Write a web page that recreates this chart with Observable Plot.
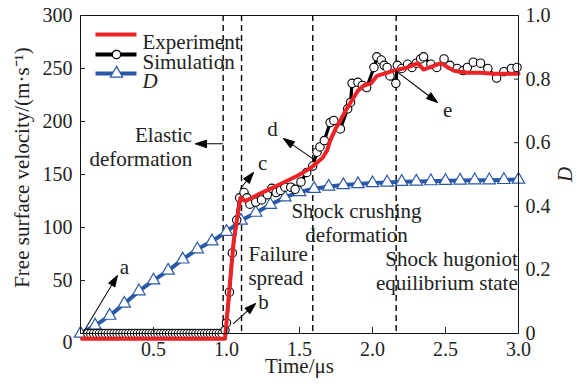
<!DOCTYPE html>
<html>
<head>
<meta charset="utf-8">
<script src="https://cdn.jsdelivr.net/npm/d3@7"></script>
<script src="https://cdn.jsdelivr.net/npm/@observablehq/plot@0.6"></script>
<style>
  html, body { margin: 0; padding: 0; background: #fff; }
  #chart svg { display: block; }
</style>
</head>
<body>
<div id="chart"></div>
<script>
// Experiment: measured free surface velocity (m/s) against time (µs)
const expTime = [0.01, 0.99, 1.05, 1.095, 1.13, 1.23, 1.37, 1.49, 1.575, 1.61, 1.66, 1.69, 1.71, 1.75, 1.78, 1.815, 1.85, 1.90, 1.94, 1.99, 2.03, 2.075, 2.145, 2.24, 2.31, 2.35, 2.47, 2.555, 2.65, 2.74, 2.83, 2.97, 3.0];
const expVelocity = [-5, -5, 88, 128, 125, 132, 141, 149, 156, 160, 166, 173, 182, 194, 201, 210, 218, 229, 234, 236, 243, 245, 248, 251, 255, 249, 255, 248, 246, 246, 245, 245, 245];

// Simulation: computed free surface velocity (m/s)
const simTime = [
  0.05, 0.07, 0.09, 0.11, 0.13, 0.15, 0.17, 0.19, 0.21, 0.23, 0.25, 0.27, 0.29, 0.31, 0.33, 0.35,
  0.37, 0.39, 0.41, 0.43, 0.45, 0.47, 0.49, 0.51, 0.53, 0.55, 0.57, 0.59, 0.61, 0.63, 0.65, 0.67,
  0.69, 0.71, 0.73, 0.75, 0.77, 0.79, 0.81, 0.83, 0.85, 0.87, 0.89, 0.91, 0.93, 0.95, 0.97,
  0.99, 1.00, 1.02, 1.04, 1.07, 1.09, 1.12, 1.14, 1.16, 1.20, 1.24, 1.28, 1.31, 1.34, 1.37, 1.40,
  1.44, 1.47, 1.51, 1.55, 1.59, 1.62, 1.64, 1.67, 1.71, 1.735, 1.78, 1.83, 1.85, 1.86, 1.90, 1.93,
  1.96, 2.01, 2.03, 2.06, 2.08, 2.10, 2.12, 2.16, 2.17, 2.20, 2.24, 2.27, 2.30, 2.33, 2.35, 2.40,
  2.44, 2.49, 2.53, 2.58, 2.62, 2.65, 2.69, 2.74, 2.79, 2.85, 2.90, 2.95, 2.99
];
const simVelocity = [
  0, 0, 0, 0, 0, 0, 0, 0, 0, 0, 0, 0, 0, 0, 0, 0,
  0, 0, 0, 0, 0, 0, 0, 0, 0, 0, 0, 0, 0, 0, 0, 0,
  0, 0, 0, 0, 0, 0, 0, 0, 0, 0, 0, 0, 0, 0, 0,
  3, 10, 39, 76, 107, 128, 133, 128, 122, 124, 126, 131, 137, 133, 135, 138,
  138, 136, 143, 152, 158, 171, 176, 182, 199, 201, 193, 212, 218, 236, 237, 234,
  232, 251, 261, 258, 253, 251, 243, 236, 253, 250, 254, 251, 255, 259, 261, 254,
  251, 259, 253, 250, 248, 251, 256, 255, 250, 241, 247, 250, 251
];

// Damage variable D (right axis, 0–1)
const dTime = [0, 0.1, 0.2, 0.3, 0.4, 0.5, 0.6, 0.7, 0.8, 0.9, 1.0, 1.1, 1.2, 1.3, 1.4, 1.5, 1.6, 1.7, 1.8, 1.9, 2.0, 2.1, 2.2, 2.3, 2.4, 2.5, 2.6, 2.7, 2.8, 2.9, 3.0];
const dValue = [0, 0.025, 0.056, 0.094, 0.133, 0.167, 0.198, 0.233, 0.265, 0.290, 0.320, 0.355, 0.380, 0.405, 0.428, 0.445, 0.455, 0.462, 0.467, 0.470, 0.473, 0.475, 0.477, 0.478, 0.479, 0.480, 0.481, 0.482, 0.482, 0.483, 0.484];

// Stage boundaries (µs)
const stageTimes = [0.977, 1.103, 1.591, 2.162];

// Axis ticks
const xTicks = [0.5, 1.0, 1.5, 2.0, 2.5, 3.0];
const velocityTicks = [0, 50, 100, 150, 200, 250, 300];
const dTicks = [0, 0.2, 0.4, 0.6, 0.8, 1.0];

// Stage descriptions and point labels, in data units (time, velocity)
const notes = [
  {text: "Elastic\ndeformation", t: 0.765, v: 177, anchor: "end"},
  {text: "Failure\nspread", t: 1.15, v: 64, anchor: "start"},
  {text: "Shock crushing\ndeformation", t: 1.89, v: 105, anchor: "middle"},
  {text: "Shock hugoniot\nequilibrium state", t: 2.995, v: 60, anchor: "end"},
  {text: "a", t: 0.30, v: 63, anchor: "middle"},
  {text: "b", t: 1.253, v: 30, anchor: "middle"},
  {text: "c", t: 1.247, v: 162, anchor: "middle"},
  {text: "d", t: 1.315, v: 194, anchor: "middle"},
  {text: "e", t: 2.514, v: 212, anchor: "middle"}
];
const pointers = [
  {t1: 0.014, v1: 0, t2: 0.253, v2: 54.7},
  {t1: 1.048, v1: 9.4, t2: 1.2, v2: 28.3},
  {t1: 1.096, v1: 136.8, t2: 1.185, v2: 151.9},
  {t1: 1.59, v1: 165, t2: 1.39, v2: 184},
  {t1: 2.158, v1: 248, t2: 2.445, v2: 218},
  {t1: 0.973, v1: 179, t2: 0.788, v2: 179}
];

// ---- layout ----
const W = 576, H = 385;
const M = {top: 15, right: 58, bottom: 52, left: 80};
const X_DOMAIN = [0, 3], Y_DOMAIN = [0, 300];
const D_MAX = 1; // right axis spans 0..1 over the same height
const kx = (W - M.left - M.right) / (X_DOMAIN[1] - X_DOMAIN[0]);
const ky = (H - M.top - M.bottom) / (Y_DOMAIN[1] - Y_DOMAIN[0]);
const toVelocity = (d) => d / D_MAX * Y_DOMAIN[1];

const FONT = "'Liberation Serif', 'Times New Roman', serif";
const FS = 21;      // titles, notes, legend
const FS_TICK = 20; // tick labels
const RED = "#ec2227", BLACK = "#000", BLUE = "#2a58a8";
const TXT = {fontSize: FS, fontFamily: FONT, fill: "#222"};
const TICK = {fontSize: FS_TICK, fontFamily: FONT, fill: "#222"};

const experiment = expTime.map((t, i) => ({t, v: expVelocity[i]}));
const simulation = simTime.map((t, i) => ({t, v: simVelocity[i]}));
const damage = dTime.map((t, i) => ({t, d: dValue[i]}));

// straight segment (used for legend swatches)
const segment = {draw(c, l) { c.moveTo(0, 0); c.lineTo(0, -l); }};
// line with a filled arrowhead at the far end
const headed = {
  draw(c, l) {
    const h = 11, w = 3.6;
    c.moveTo(0, 0); c.lineTo(0, -l + h);
    c.moveTo(0, -l); c.lineTo(w, -l + h); c.lineTo(-w, -l + h); c.closePath();
  }
};
const pointerMarks = pointers.map((p) => {
  const dx = (p.t2 - p.t1) * kx, dy = -(p.v2 - p.v1) * ky;
  return Plot.vector([p], {
    x: "t2", y: "v2", anchor: "end", shape: headed,
    length: Math.hypot(dx, dy), rotate: Math.atan2(dx, -dy) * 180 / Math.PI,
    stroke: BLACK, fill: BLACK, strokeWidth: 1
  });
});
const noteMarks = ["start", "middle", "end"].map((anchor) =>
  Plot.text(notes.filter((n) => n.anchor === anchor), {x: "t", y: "v", text: "text", textAnchor: anchor, lineHeight: 1.15, ...TXT})
);

const legendRows = [
  {label: "Experiment", color: RED, dy: 19, marker: null, italic: false},
  {label: "Simulation", color: BLACK, dy: 39, marker: "circle", italic: false},
  {label: "D", color: BLUE, dy: 58, marker: "triangle", italic: true}
];
const legendMarks = legendRows.flatMap((row) => {
  const marks = [
    Plot.vector([row], {frameAnchor: "top-left", dx: 15, dy: row.dy, length: 41, rotate: 90, anchor: "start",
      shape: segment, stroke: row.color, strokeWidth: 4, strokeLinecap: "butt"}),
    Plot.text([row], {frameAnchor: "top-left", dx: 62, dy: row.dy, text: "label", textAnchor: "start",
      ...TXT, fontStyle: row.italic ? "italic" : "normal"})
  ];
  if (row.marker) marks.splice(1, 0, Plot.dot([row], {frameAnchor: "top-left", dx: 36, dy: row.dy,
    symbol: row.marker, r: row.marker === "circle" ? 4.2 : 4.6, fill: "white", stroke: row.color, strokeWidth: 1.2}));
  return marks;
});

const chart = Plot.plot({
  width: W, height: H,
  marginTop: M.top, marginRight: M.right, marginBottom: M.bottom, marginLeft: M.left,
  style: {fontFamily: FONT, fontSize: FS + "px", background: "white", color: "#222"},
  x: {domain: X_DOMAIN},
  y: {domain: Y_DOMAIN},
  marks: [
    Plot.ruleX(stageTimes, {stroke: BLACK, strokeWidth: 1.4, strokeDasharray: "6,4"}),
    // damage on the right-hand scale
    Plot.line(damage, {x: "t", y: (d) => toVelocity(d.d), stroke: BLUE, strokeWidth: 4}),
    Plot.dot(damage, {x: "t", y: (d) => toVelocity(d.d), symbol: "triangle", r: 4.6, fill: "white", stroke: BLUE, strokeWidth: 1.2}),
    // simulation
    Plot.line(simulation, {x: "t", y: "v", stroke: BLACK, strokeWidth: 3.2}),
    Plot.dot(simulation, {x: "t", y: "v", r: 4.2, fill: "white", stroke: BLACK, strokeWidth: 1.1}),
    // experiment
    Plot.line(experiment, {x: "t", y: "v", stroke: RED, strokeWidth: 4}),
    // annotations
    ...pointerMarks,
    ...noteMarks,
    ...legendMarks,
    // frame and axes
    Plot.frame({stroke: "#111", strokeWidth: 1}),
    Plot.axisX(xTicks, {anchor: "bottom", tickSize: -6, tickPadding: 14, tickFormat: d3.format(".1f"),
      ...TICK, label: null}),
    Plot.axisY(velocityTicks, {anchor: "left", tickSize: -5, tickPadding: 13, tickFormat: (v) => v === 0 ? "" : String(v),
      ...TICK, label: null}),
    Plot.axisY(dTicks.map(toVelocity), {anchor: "right", tickSize: -5, tickPadding: 12,
      tickFormat: (v) => { const d = v / Y_DOMAIN[1] * D_MAX; return d === 0 ? "0" : d.toFixed(1); },
      ...TICK, label: null}),
    // shared origin label
    Plot.text(["0"], {frameAnchor: "bottom-left", dx: -13, dy: 15, text: (d) => d, textAnchor: "middle", ...TICK}),
    // axis titles
    Plot.text(["Time/μs"], {frameAnchor: "bottom", dy: 39, text: (d) => d, textAnchor: "middle", ...TXT}),
    Plot.text(["Free surface velocity/(m·s⁻¹)"], {frameAnchor: "left", dx: -58, dy: -7, rotate: -90, text: (d) => d,
      textAnchor: "middle", ...TXT}),
    Plot.text(["D"], {frameAnchor: "right", dx: 47, rotate: -90, text: (d) => d, textAnchor: "middle", ...TXT, fontStyle: "italic"})
  ]
});
document.getElementById("chart").append(chart);
</script>
</body>
</html>
